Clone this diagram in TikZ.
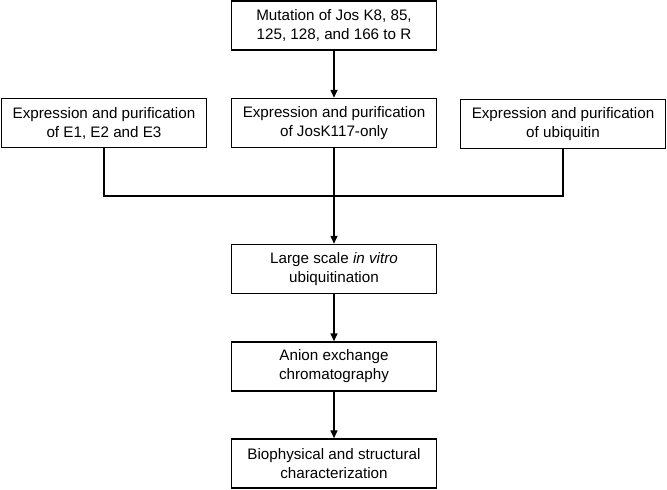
\documentclass[tikz,border=0pt]{standalone}
\usepackage{fontspec}
\setmainfont{Liberation Sans}
\usetikzlibrary{arrows.meta}

\begin{document}
\begin{tikzpicture}[x=1pt, y=-1pt,
    stepbox/.style={draw, line width=1.5pt, minimum width=205pt, minimum height=49pt,
        align=center, inner sep=0pt, font=\fontsize{15.2}{19}\selectfont},
    flow/.style={line width=1.5pt, -{Triangle[length=8pt, width=7pt]}},
    link/.style={line width=1.5pt}]

    \useasboundingbox (0, 0) rectangle (667, 490);

    % Boxes
    \node[stepbox] (mut) at (334, 25.5) {Mutation of Jos K8, 85,\\125, 128, and 166 to R};
    \node[stepbox] (josk) at (334, 123) {Expression and purification\\of JosK117-only};
    \node[stepbox] (enz) at (104, 123) {Expression and purification\\of E1, E2 and E3};
    \node[stepbox] (ubq) at (563, 124) {Expression and purification\\of ubiquitin};
    \node[stepbox] (large) at (334, 269) {Large scale \textit{in vitro}\\ubiquitination};
    \node[stepbox] (anion) at (334, 366.5) {Anion exchange\\chromatography};
    \node[stepbox] (bio) at (334, 463.5) {Biophysical and structural\\characterization};

    \coordinate (join) at (334, 196);

    % Connectors
    \draw[flow] (mut) -- (josk);
    \draw[link] (enz.south) |- (join);
    \draw[link] (ubq.south) |- (join);
    \draw[flow] (josk) -- (large);
    \draw[flow] (large) -- (anion);
    \draw[flow] (anion) -- (bio);

\end{tikzpicture}
\end{document}
